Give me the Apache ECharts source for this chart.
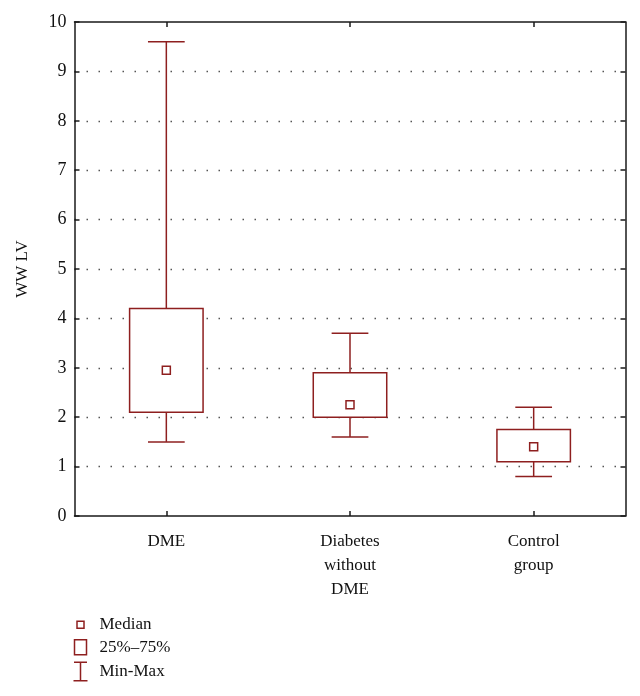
<!DOCTYPE html>
<html>
<head>
<meta charset="utf-8">
<script src="https://cdn.jsdelivr.net/npm/echarts@6/dist/echarts.min.js"></script>
<style>html,body{margin:0;padding:0;background:#fff;}#c{width:640px;height:696px;}</style>
</head>
<body>
<div id="c"></div>
<script>
const categories = ['DME', 'Diabetes\nwithout\nDME', 'Control\ngroup'];
const minValues = [1.5, 1.6, 0.8];
const q1Values = [2.1, 2.0, 1.1];
const medianValues = [2.95, 2.25, 1.4];
const q3Values = [4.2, 2.9, 1.75];
const maxValues = [9.6, 3.7, 2.2];
const legendNames = ['Median', '25%\u201375%', 'Min-Max'];
const yAxisName = 'WW LV';

const C = '#8e1f1f';
const FONT = 'Liberation Serif';

const boxData = categories.map((c, i) => [i, minValues[i], q1Values[i], medianValues[i], q3Values[i], maxValues[i]]);
const medianData = categories.map((c, i) => [i, medianValues[i]]);

const chart = echarts.init(document.getElementById('c'), null, {renderer: 'canvas'});
const axisLine = {show: true, onZero: false, lineStyle: {color: '#1a1a1a', width: 1.5}};
const tick = {show: true, inside: true, length: 5, lineStyle: {color: '#1a1a1a', width: 1.5}};
chart.setOption({
  animation: false,
  backgroundColor: '#fff',
  grid: {left: 74.5, right: 14.5, top: 22, bottom: 180, containLabel: false},
  xAxis: [{
    type: 'category', data: categories, position: 'bottom',
    axisLine: axisLine,
    axisTick: Object.assign({alignWithLabel: true}, tick),
    axisLabel: {color: '#111', fontFamily: FONT, fontSize: 17, lineHeight: 24, margin: 14, interval: 0},
    splitLine: {show: false}
  }, {
    type: 'category', data: categories, position: 'top',
    axisLine: axisLine,
    axisTick: Object.assign({alignWithLabel: true}, tick),
    axisLabel: {show: false}, splitLine: {show: false}
  }],
  yAxis: [{
    type: 'value', min: 0, max: 10, interval: 1, position: 'left',
    name: yAxisName, nameLocation: 'middle', nameGap: 43, nameRotate: 90,
    nameTextStyle: {color: '#111', fontFamily: FONT, fontSize: 17},
    axisLine: axisLine,
    axisTick: tick,
    axisLabel: {color: '#111', fontFamily: FONT, fontSize: 18, margin: 8},
    splitLine: {show: true, showMinLine: false, showMaxLine: false, lineStyle: {color: '#555', width: 1.3, type: [1.5, 10.5]}}
  }, {
    type: 'value', min: 0, max: 10, interval: 1, position: 'right',
    axisLine: axisLine,
    axisTick: tick,
    axisLabel: {show: false}, splitLine: {show: false}
  }],
  legend: {
    orient: 'vertical', left: 66, top: 614, padding: 0, height: 80,
    itemWidth: 26, itemHeight: 20, itemGap: 1,
    selectedMode: false,
    textStyle: {color: '#111', fontFamily: FONT, fontSize: 17},
    data: [
      {name: legendNames[0], icon: 'path://M0 0M26 20M8.5 6.5h7v7h-7Z', itemStyle: {color: '#fff', borderColor: C, borderWidth: 1.5}},
      {name: legendNames[1], icon: 'path://M0 0M26 20M6 2.5h12v15h-12Z', itemStyle: {color: '#fff', borderColor: C, borderWidth: 1.5}},
      {name: legendNames[2], icon: 'path://M0 0M26 20M5.5 0.8h13M12 0.8V19.2M5 19.2h14', itemStyle: {color: 'none', borderColor: C, borderWidth: 1.5}}
    ]
  },
  series: [
    {
      name: legendNames[2], type: 'custom', xAxisIndex: 0, yAxisIndex: 0, z: 2,
      itemStyle: {color: C},
      encode: {x: 0, y: [1, 2, 3, 4, 5]},
      data: boxData,
      renderItem: function (params, api) {
        const x = api.value(0);
        const pMin = api.coord([x, api.value(1)]);
        const pQ1 = api.coord([x, api.value(2)]);
        const pQ3 = api.coord([x, api.value(4)]);
        const pMax = api.coord([x, api.value(5)]);
        const half = api.size([1, 0])[0] * 0.1;
        const st = {stroke: C, lineWidth: 1.5, fill: null};
        return {type: 'group', children: [
          {type: 'line', shape: {x1: pMax[0], y1: pMax[1], x2: pQ3[0], y2: pQ3[1]}, style: st},
          {type: 'line', shape: {x1: pQ1[0], y1: pQ1[1], x2: pMin[0], y2: pMin[1]}, style: st},
          {type: 'line', shape: {x1: pMax[0] - half, y1: pMax[1], x2: pMax[0] + half, y2: pMax[1]}, style: st},
          {type: 'line', shape: {x1: pMin[0] - half, y1: pMin[1], x2: pMin[0] + half, y2: pMin[1]}, style: st}
        ]};
      }
    },
    {
      name: legendNames[1], type: 'custom', xAxisIndex: 0, yAxisIndex: 0, z: 3,
      itemStyle: {color: '#fff', borderColor: C},
      encode: {x: 0, y: [1, 2, 3, 4, 5]},
      data: boxData,
      renderItem: function (params, api) {
        const x = api.value(0);
        const pQ1 = api.coord([x, api.value(2)]);
        const pQ3 = api.coord([x, api.value(4)]);
        const w = api.size([1, 0])[0] * 0.4;
        return {type: 'rect', shape: {x: pQ3[0] - w / 2, y: pQ3[1], width: w, height: pQ1[1] - pQ3[1]},
          style: {fill: '#fff', stroke: C, lineWidth: 1.5}};
      }
    },
    {
      name: legendNames[0], type: 'scatter', xAxisIndex: 0, yAxisIndex: 0, z: 4,
      symbol: 'rect', symbolSize: 8,
      itemStyle: {color: '#fff', borderColor: C, borderWidth: 1.5, opacity: 1},
      data: medianData
    }
  ]
});
</script>
</body>
</html>
